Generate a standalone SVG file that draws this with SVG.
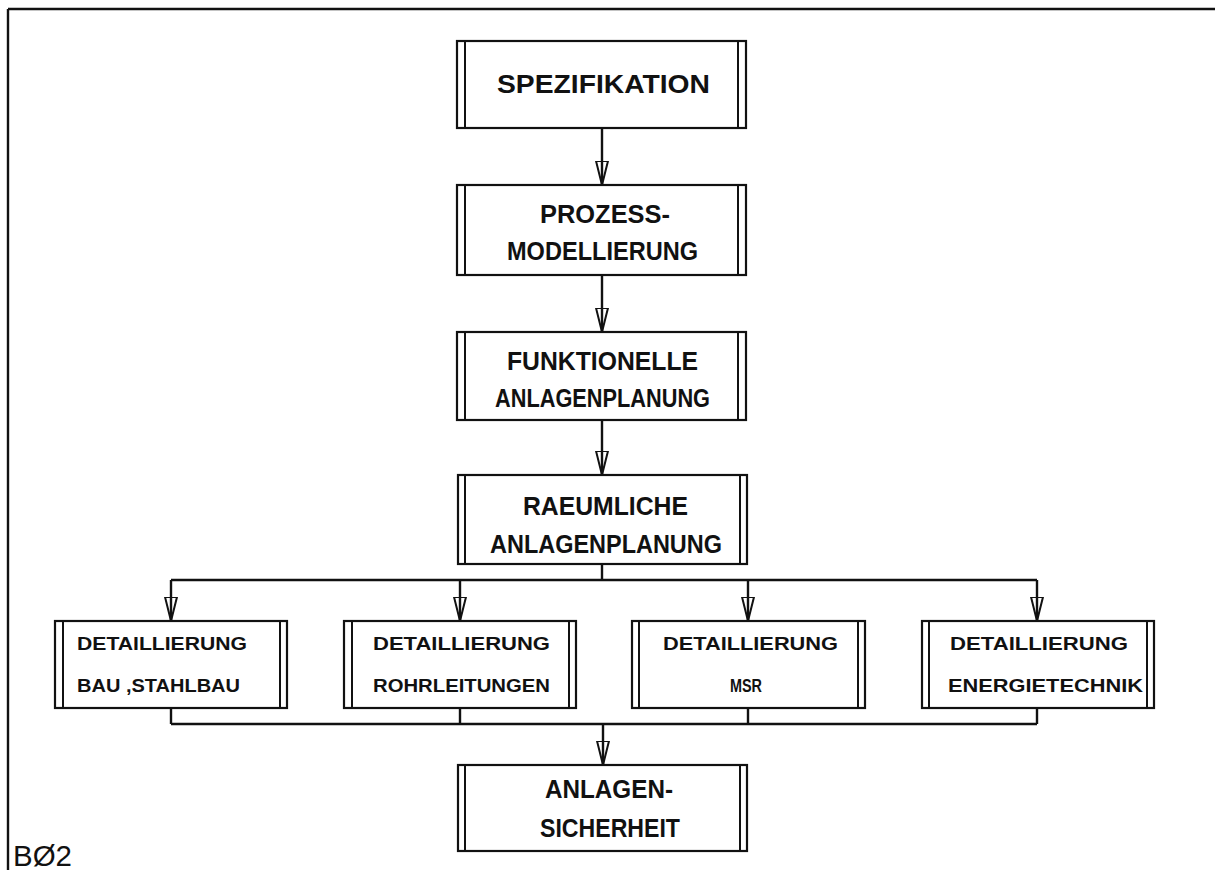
<svg xmlns="http://www.w3.org/2000/svg" width="1215" height="873" viewBox="0 0 1215 873">
<style>
.box{fill:none;stroke:#111;stroke-width:2.2}
.in{stroke:#111;stroke-width:2}
.c{fill:none;stroke:#111;stroke-width:2.4}
.t{font-family:"Liberation Sans",Arial,sans-serif;font-weight:bold;font-size:26px;fill:#111}
.s{font-family:"Liberation Sans",Arial,sans-serif;font-weight:bold;font-size:18px;fill:#111}
.lbl{font-family:"Liberation Sans",Arial,sans-serif;font-size:30px;fill:#111}
</style>
<defs>
<marker id="ah" markerUnits="userSpaceOnUse" viewBox="0 0 24 14" markerWidth="24" markerHeight="14" refX="24" refY="7" orient="auto">
<path d="M0,1 L24,7 L0,13 Z" fill="none" stroke="#111" stroke-width="2"/>
</marker>
</defs>
<g id="frame">
<line x1="8" y1="9" x2="1215" y2="9" class="c"/>
<line x1="8" y1="9" x2="8" y2="870" class="c"/>
<text class="lbl" x="13" y="866" textLength="59" lengthAdjust="spacingAndGlyphs">BØ2</text>
</g>
<g id="connectors">
<line class="c" x1="602" y1="128" x2="602" y2="185" marker-end="url(#ah)"/>
<line class="c" x1="602" y1="275" x2="602" y2="332" marker-end="url(#ah)"/>
<line class="c" x1="602" y1="420" x2="602" y2="475" marker-end="url(#ah)"/>
<line class="c" x1="602" y1="564" x2="602" y2="580"/>
<line class="c" x1="171" y1="580" x2="1037" y2="580"/>
<line class="c" x1="171" y1="580" x2="171" y2="621" marker-end="url(#ah)"/>
<line class="c" x1="460" y1="580" x2="460" y2="621" marker-end="url(#ah)"/>
<line class="c" x1="748" y1="580" x2="748" y2="621" marker-end="url(#ah)"/>
<line class="c" x1="1037" y1="580" x2="1037" y2="621" marker-end="url(#ah)"/>
<line class="c" x1="171" y1="708" x2="171" y2="724"/>
<line class="c" x1="460" y1="708" x2="460" y2="724"/>
<line class="c" x1="748" y1="708" x2="748" y2="724"/>
<line class="c" x1="1037" y1="708" x2="1037" y2="724"/>
<line class="c" x1="171" y1="724" x2="1037" y2="724"/>
<line class="c" x1="603" y1="724" x2="603" y2="765" marker-end="url(#ah)"/>
</g>
<g id="n1">
<rect class="box" x="457" y="41" width="289" height="87"/>
<line class="in" x1="465" y1="41" x2="465" y2="128"/><line class="in" x1="738" y1="41" x2="738" y2="128"/>
<text class="t" x="497" y="93" textLength="213" lengthAdjust="spacingAndGlyphs">SPEZIFIKATION</text>
</g>
<g id="n2">
<rect class="box" x="457" y="185" width="289" height="90"/>
<line class="in" x1="465" y1="185" x2="465" y2="275"/><line class="in" x1="738" y1="185" x2="738" y2="275"/>
<text class="t" x="540" y="223" textLength="130" lengthAdjust="spacingAndGlyphs">PROZESS-</text>
<text class="t" x="507" y="260" textLength="191" lengthAdjust="spacingAndGlyphs">MODELLIERUNG</text>
</g>
<g id="n3">
<rect class="box" x="457" y="332" width="289" height="88"/>
<line class="in" x1="465" y1="332" x2="465" y2="420"/><line class="in" x1="738" y1="332" x2="738" y2="420"/>
<text class="t" x="507" y="370" textLength="191" lengthAdjust="spacingAndGlyphs">FUNKTIONELLE</text>
<text class="t" x="495" y="407" textLength="215" lengthAdjust="spacingAndGlyphs">ANLAGENPLANUNG</text>
</g>
<g id="n4">
<rect class="box" x="458" y="475" width="289" height="89"/>
<line class="in" x1="465" y1="475" x2="465" y2="564"/><line class="in" x1="740" y1="475" x2="740" y2="564"/>
<text class="t" x="523" y="515" textLength="165" lengthAdjust="spacingAndGlyphs">RAEUMLICHE</text>
<text class="t" x="490" y="553" textLength="232" lengthAdjust="spacingAndGlyphs">ANLAGENPLANUNG</text>
</g>
<g id="d1">
<rect class="box" x="55" y="621" width="232" height="87"/>
<line class="in" x1="63" y1="621" x2="63" y2="708"/><line class="in" x1="280" y1="621" x2="280" y2="708"/>
<text class="s" x="77" y="650" textLength="170" lengthAdjust="spacingAndGlyphs">DETAILLIERUNG</text>
<text class="s" x="77" y="692" textLength="163" lengthAdjust="spacingAndGlyphs">BAU ,STAHLBAU</text>
</g>
<g id="d2">
<rect class="box" x="344" y="621" width="232" height="87"/>
<line class="in" x1="352" y1="621" x2="352" y2="708"/><line class="in" x1="569" y1="621" x2="569" y2="708"/>
<text class="s" x="373" y="650" textLength="177" lengthAdjust="spacingAndGlyphs">DETAILLIERUNG</text>
<text class="s" x="373" y="692" textLength="177" lengthAdjust="spacingAndGlyphs">ROHRLEITUNGEN</text>
</g>
<g id="d3">
<rect class="box" x="632" y="621" width="233" height="87"/>
<line class="in" x1="639" y1="621" x2="639" y2="708"/><line class="in" x1="858" y1="621" x2="858" y2="708"/>
<text class="s" x="663" y="650" textLength="175" lengthAdjust="spacingAndGlyphs">DETAILLIERUNG</text>
<text class="s" x="730" y="692" textLength="32" lengthAdjust="spacingAndGlyphs">MSR</text>
</g>
<g id="d4">
<rect class="box" x="922" y="621" width="232" height="87"/>
<line class="in" x1="929" y1="621" x2="929" y2="708"/><line class="in" x1="1147" y1="621" x2="1147" y2="708"/>
<text class="s" x="950" y="650" textLength="178" lengthAdjust="spacingAndGlyphs">DETAILLIERUNG</text>
<text class="s" x="948" y="692" textLength="195" lengthAdjust="spacingAndGlyphs">ENERGIETECHNIK</text>
</g>
<g id="n5">
<rect class="box" x="458" y="765" width="289" height="86"/>
<line class="in" x1="465" y1="765" x2="465" y2="851"/><line class="in" x1="740" y1="765" x2="740" y2="851"/>
<text class="t" x="545" y="798" textLength="128" lengthAdjust="spacingAndGlyphs">ANLAGEN-</text>
<text class="t" x="540" y="837" textLength="140" lengthAdjust="spacingAndGlyphs">SICHERHEIT</text>
</g>
</svg>
